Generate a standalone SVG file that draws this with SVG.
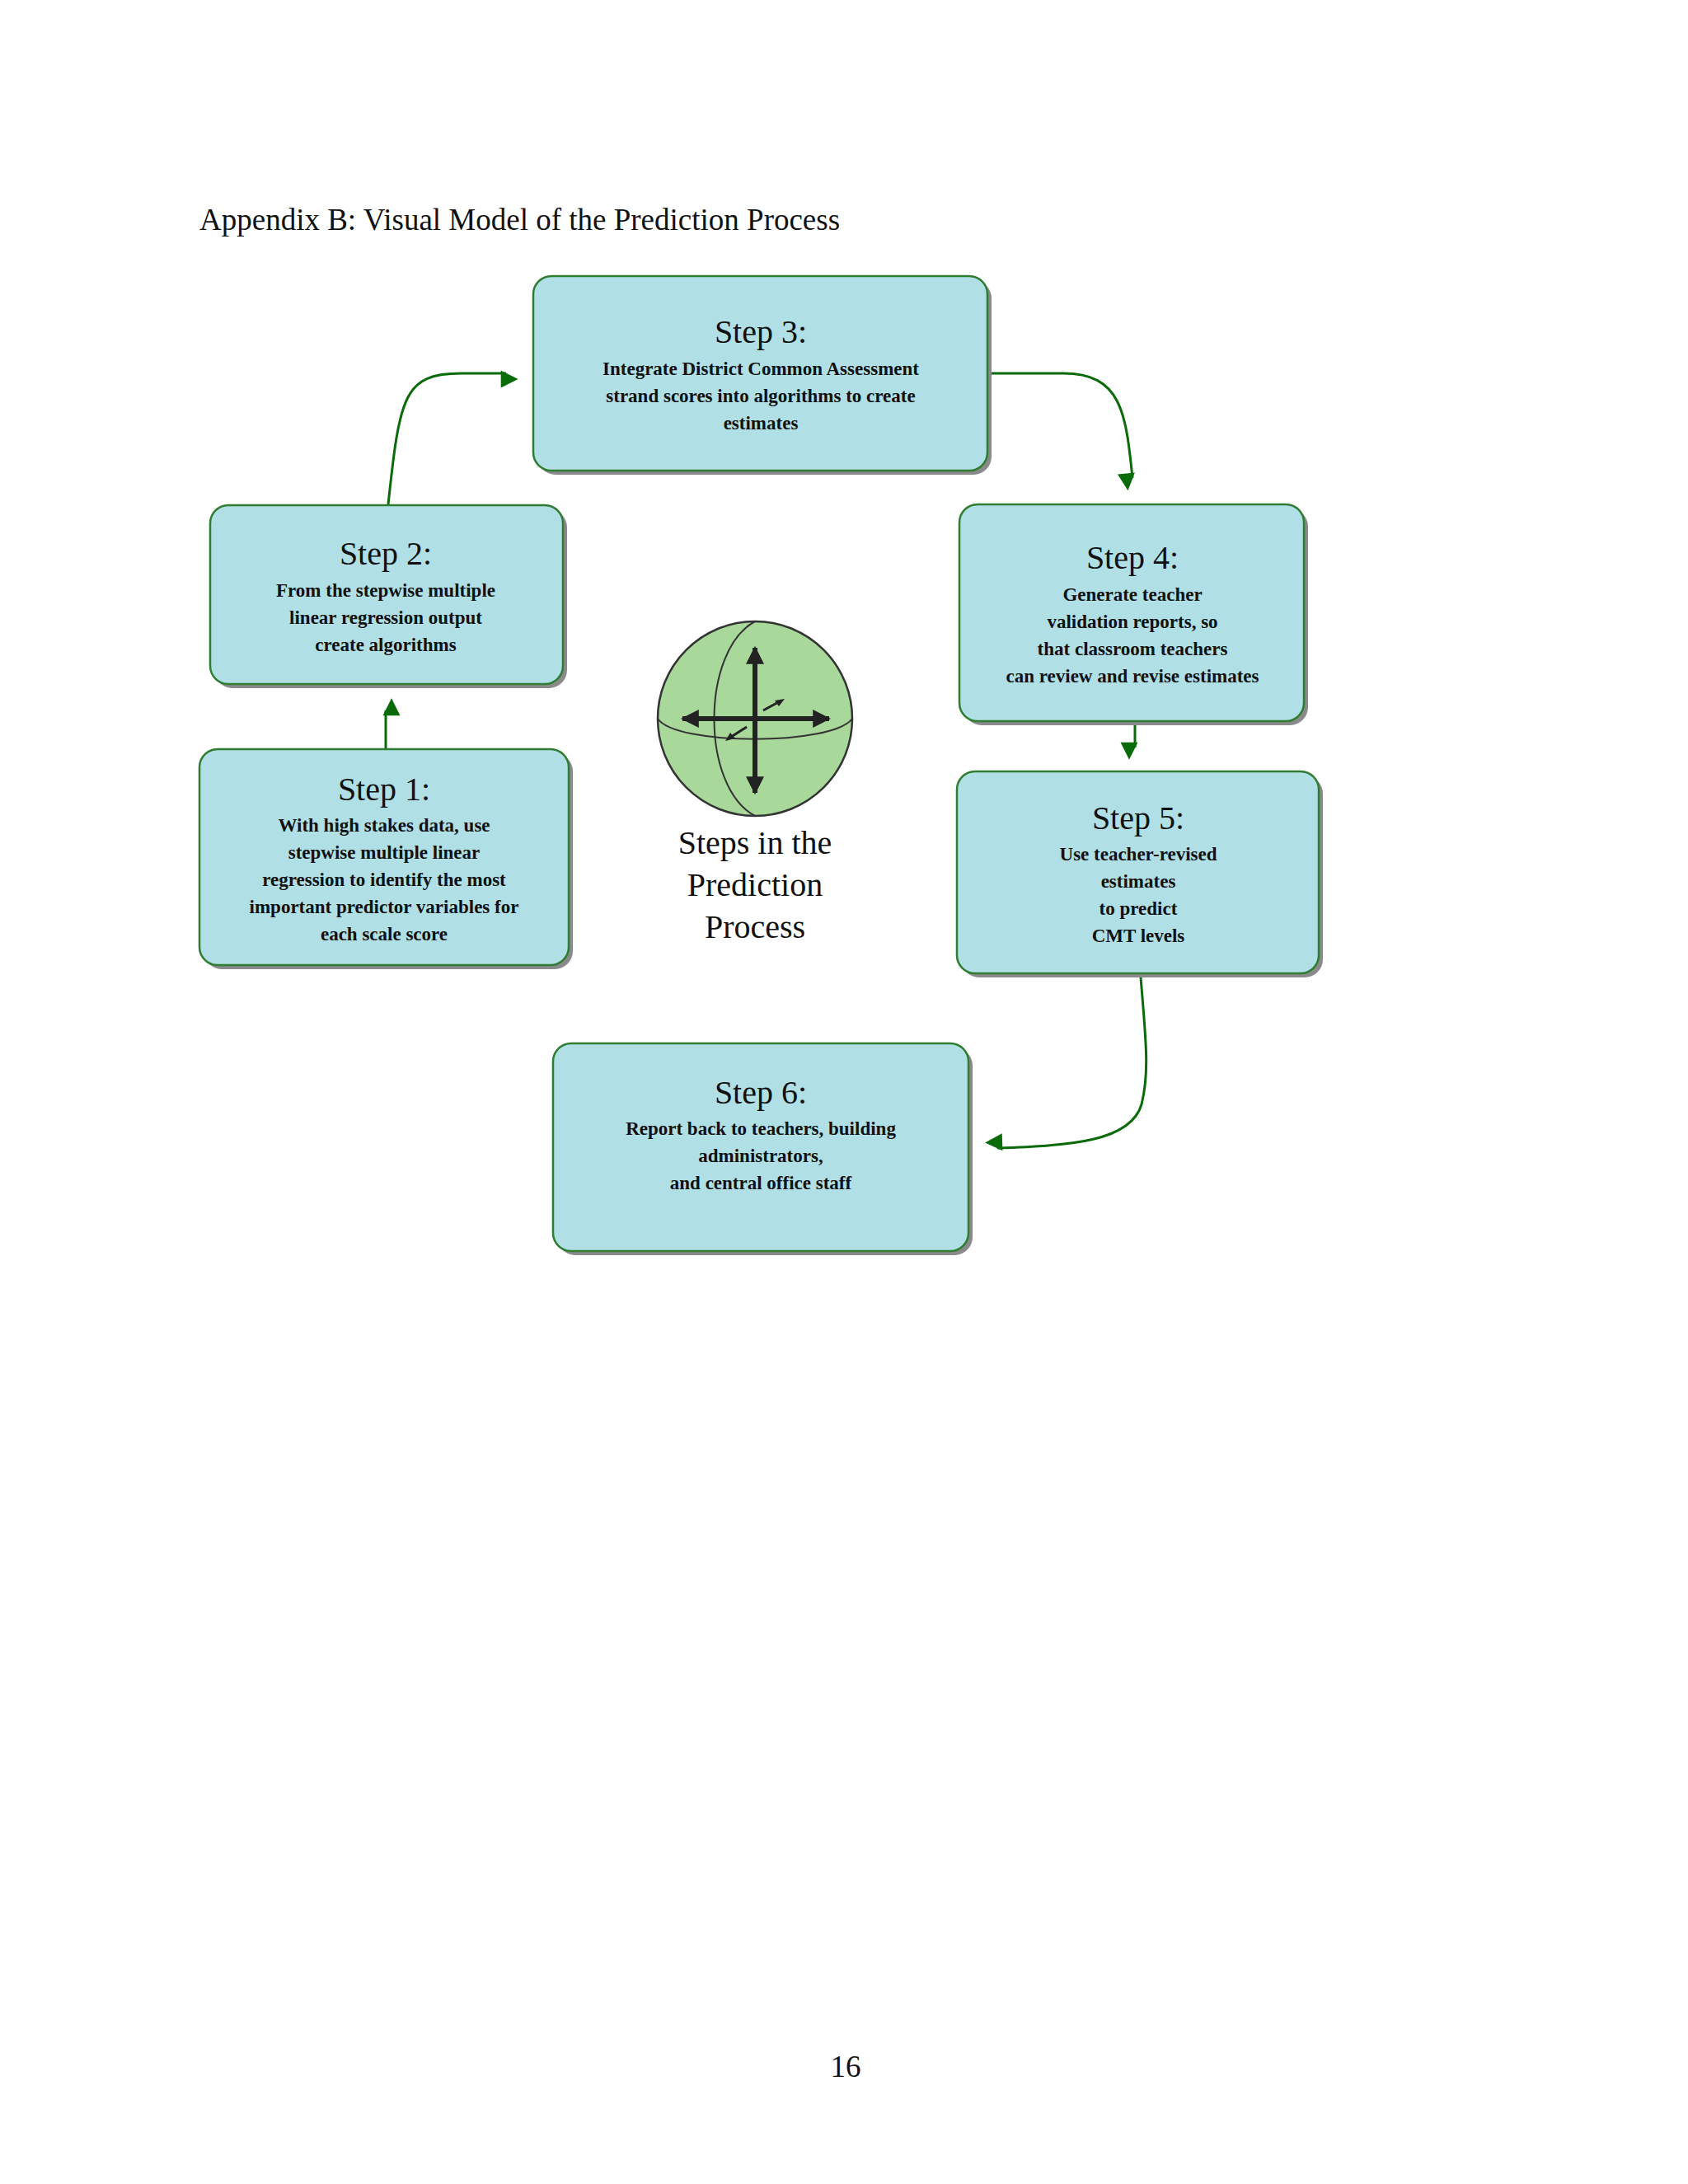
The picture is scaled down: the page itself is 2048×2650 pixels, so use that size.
<svg xmlns="http://www.w3.org/2000/svg" width="2048" height="2650" viewBox="0 0 2048 2650">
<style>
.box{fill:#b0e0e6;stroke:#2e7d32;stroke-width:2.5}
.sh{fill:#8a8a8a}
.t{font-family:"Liberation Serif",serif;font-size:40px;text-anchor:middle;fill:#111}
.b{font-family:"Liberation Serif",serif;font-size:23px;font-weight:bold;text-anchor:middle;fill:#111}
.c{fill:none;stroke:#0b6b0b;stroke-width:3}
</style>
<defs>
<marker id="ah" viewBox="0 0 10 10" refX="9" refY="5" markerWidth="7" markerHeight="7" orient="auto" markerUnits="userSpaceOnUse" style="overflow:visible"><path d="M0,0 L10,5 L0,10 z" fill="#0b6b0b" transform="scale(3)"/></marker>
<marker id="ka" viewBox="0 0 10 10" refX="9" refY="5" markerWidth="22" markerHeight="22" orient="auto" markerUnits="userSpaceOnUse"><path d="M0,0 L10,5 L0,10 z" fill="#222"/></marker>
</defs>
<rect width="2048" height="2650" fill="#fff"/>
<text x="242" y="279" font-family="Liberation Serif,serif" font-size="37" fill="#111">Appendix B: Visual Model of the Prediction Process</text>
<g id="connectors">
<path class="c" d="M468,908 L468,862" marker-end="url(#ah)"/>
<path class="c" d="M471,612 C485,480 490,453 560,453 L614,453" marker-end="url(#ah)"/>
<path class="c" d="M1203,453 L1290,453 C1360,453 1366,500 1374,580" marker-end="url(#ah)"/>
<path class="c" d="M1377,879 L1377,907" marker-end="url(#ah)"/>
<path class="c" d="M1384,1186 C1390,1260 1395,1300 1385,1340 C1372,1385 1300,1390 1210,1393" marker-end="url(#ah)"/>
</g>
<g id="step3"><rect class="sh" x="652" y="340" width="551" height="236" rx="22"/><rect class="box" x="647" y="335" width="551" height="236" rx="22"/>
<text class="t" x="923" y="416">Step 3:</text>
<text class="b" x="923" y="455">Integrate District Common Assessment</text><text class="b" x="923" y="488">strand scores into algorithms to create</text><text class="b" x="923" y="521">estimates</text></g>
<g id="step2"><rect class="sh" x="260" y="618" width="428" height="217" rx="22"/><rect class="box" x="255" y="613" width="428" height="217" rx="22"/>
<text class="t" x="468" y="685">Step 2:</text>
<text class="b" x="468" y="724">From the stepwise multiple</text><text class="b" x="468" y="757">linear regression output</text><text class="b" x="468" y="790">create algorithms</text></g>
<g id="step1"><rect class="sh" x="247" y="914" width="448" height="262" rx="22"/><rect class="box" x="242" y="909" width="448" height="262" rx="22"/>
<text class="t" x="466" y="971">Step 1:</text>
<text class="b" x="466" y="1009">With high stakes data, use</text><text class="b" x="466" y="1042">stepwise multiple linear</text><text class="b" x="466" y="1075">regression to identify the most</text><text class="b" x="466" y="1108">important predictor variables for</text><text class="b" x="466" y="1141">each scale score</text></g>
<g id="step4"><rect class="sh" x="1169" y="617" width="418" height="263" rx="22"/><rect class="box" x="1164" y="612" width="418" height="263" rx="22"/>
<text class="t" x="1374" y="690">Step 4:</text>
<text class="b" x="1374" y="729">Generate teacher</text><text class="b" x="1374" y="762">validation reports, so</text><text class="b" x="1374" y="795">that classroom teachers</text><text class="b" x="1374" y="828">can review and revise estimates</text></g>
<g id="step5"><rect class="sh" x="1166" y="941" width="439" height="245" rx="22"/><rect class="box" x="1161" y="936" width="439" height="245" rx="22"/>
<text class="t" x="1381" y="1006">Step 5:</text>
<text class="b" x="1381" y="1044">Use teacher-revised</text><text class="b" x="1381" y="1077">estimates</text><text class="b" x="1381" y="1110">to predict</text><text class="b" x="1381" y="1143">CMT levels</text></g>
<g id="step6"><rect class="sh" x="676" y="1271" width="504" height="252" rx="22"/><rect class="box" x="671" y="1266" width="504" height="252" rx="22"/>
<text class="t" x="923" y="1339">Step 6:</text>
<text class="b" x="923" y="1377">Report back to teachers, building</text><text class="b" x="923" y="1410">administrators,</text><text class="b" x="923" y="1443">and central office staff</text></g>
<g id="center">
<circle cx="916" cy="872" r="118" fill="#a8d89a" stroke="#333" stroke-width="2.5"/>
<path d="M916,754 C850,790 850,955 916,990" fill="none" stroke="#333" stroke-width="2"/>
<path d="M798,872 C820,905 1010,905 1034,872" fill="none" stroke="#333" stroke-width="2"/>
<line x1="916" y1="872" x2="916" y2="786" stroke="#222" stroke-width="6" marker-end="url(#ka)"/>
<line x1="916" y1="872" x2="916" y2="962" stroke="#222" stroke-width="6" marker-end="url(#ka)"/>
<line x1="916" y1="872" x2="828" y2="872" stroke="#222" stroke-width="6" marker-end="url(#ka)"/>
<line x1="916" y1="872" x2="1006" y2="872" stroke="#222" stroke-width="6" marker-end="url(#ka)"/>
<line x1="906" y1="882" x2="884" y2="896" stroke="#222" stroke-width="3"/>
<line x1="926" y1="862" x2="948" y2="850" stroke="#222" stroke-width="3"/>
<path d="M880,899 l12,-3 l-6,-7 z M952,848 l-12,2 l5,7 z" fill="#222"/>
<text class="t" x="916" y="1036" font-size="44">Steps in the</text>
<text class="t" x="916" y="1087" font-size="44">Prediction</text>
<text class="t" x="916" y="1138" font-size="44">Process</text>
</g>
<text x="1026" y="2520" font-family="Liberation Serif,serif" font-size="37" text-anchor="middle" fill="#111">16</text>
</svg>
